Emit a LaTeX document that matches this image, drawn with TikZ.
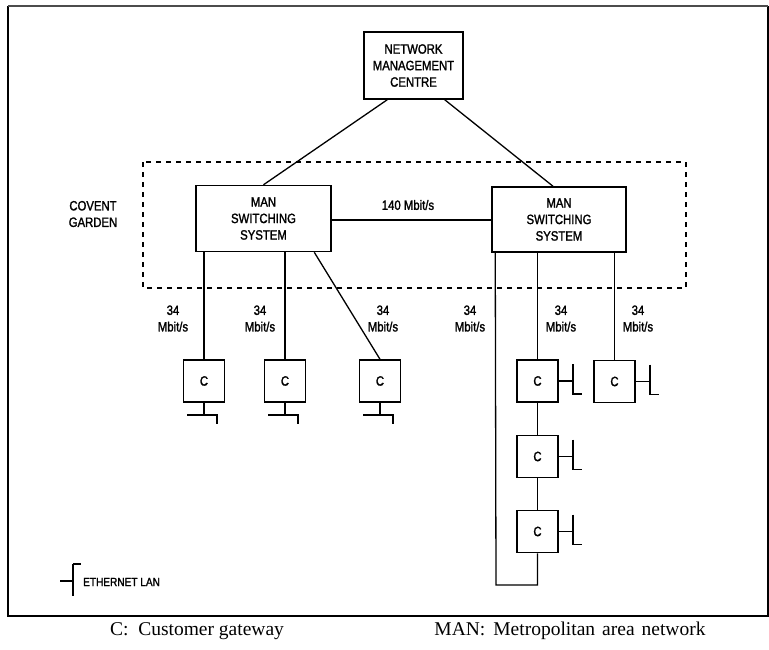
\documentclass[tikz,border=0pt]{standalone}
\usepackage{fontspec}
\usetikzlibrary{calc}
\newfontfamily\diafont[FakeStretch=0.84,FakeBold=1.6]{Liberation Sans}
\newfontfamily\capfont{Liberation Serif}
\begin{document}
\begin{tikzpicture}[x=1pt,y=-1pt,
  box/.style={draw,line width=1.5pt,inner sep=0pt,align=center,
    font=\diafont\fontsize{13.5}{16.5}\selectfont},
  gw/.style={box,minimum width=41pt,minimum height=42pt},
  lbl/.style={align=center,inner sep=0pt,font=\diafont\fontsize{13.5}{16.5}\selectfont},
  link/.style={line width=1.3pt},
  lan/.style={line width=1.5pt},
  zone/.style={line width=1.2pt,dash pattern=on 5pt off 5pt}]
\useasboundingbox (0,0) rectangle (769,649);

% outer frame
\draw[line width=2pt] (8,6) -- (8,616) -- (768,616) -- (768,6);
\draw[line width=2pt,black!70] (8,6) -- (768,6);

% Covent Garden site boundary
\draw[zone] (143,162) rectangle (686,288);
\node[lbl] (cg) at (93,214) {COVENT\\GARDEN};

% management centre and switching systems
\node[box,minimum width=99pt,minimum height=67pt] (nmc) at (413.5,65.5)
  {NETWORK\\MANAGEMENT\\CENTRE};
\node[box,minimum width=135pt,minimum height=66pt] (manl) at (263.5,218.5)
  {MAN\\SWITCHING\\SYSTEM};
\node[box,minimum width=134pt,minimum height=65pt] (manr) at (559,219.5)
  {MAN\\SWITCHING\\SYSTEM};

% customer gateways
\node[gw] (c1) at (204,381) {C};
\node[gw] (c2) at (285,381) {C};
\node[gw] (c3) at (380,381) {C};
\node[gw] (c4) at (537.5,381) {C};
\node[gw] (c5) at (614.5,381.5) {C};
\node[gw] (c6) at (537.5,456.5) {C};
\node[gw] (c7) at (537.5,531.5) {C};

% management links
\draw[link] ($(nmc.south west)+(24,0)$) -- (manl.north);
\draw[link] ($(nmc.south east)+(-19,0)$) -- ($(manr.north)+(-6,0)$);

% trunk between switching systems
\coordinate (trunka) at ($(manl.east)+(0,1.5)$);
\draw[link] (trunka) -- (trunka -| manr.west);
\node[lbl] (trunk) at (408,205) {140 Mbit/s};

% access links, left system
\draw[link] (manl.south west -| c1.north) -- (c1.north);
\draw[link] (manl.south west -| c2.north) -- (c2.north);
\draw[link] ($(manl.south west)+(119,0)$) -- (c3.north);

% access links, right system
\draw[link] (manr.south -| c4.north) -- (c4.north);
\draw[link] (manr.south -| c5.north) -- (c5.north);
\draw[link] (c4.south) -- (c6.north);
\draw[link] (c6.south) -- (c7.north);
\coordinate (loopa) at ($(manr.south west)+(4,0)$);
\coordinate (loopb) at (496,585);
\draw[link] (loopa) -- (loopb) -- (loopb -| c7.south) -- (c7.south);

% rate labels
\foreach \x/\n in {173/r1,260/r2,383/r3,470/r4,561/r5,638/r6}
  \node[lbl] (\n) at (\x,318.5) {34\\Mbit/s};

% Ethernet LANs below the gateways
\foreach \g in {c1,c2,c3}{
  \draw[lan] (\g.south) -- ++(0,12);
  \draw[lan] ($(\g.south)+(-17,12)$) -- ++(30,0) -- ++(0,9);
}
% Ethernet LANs beside the gateways
\foreach \g in {c4,c5,c6,c7}{
  \draw[lan] (\g.east) -- ++(14,0);
  \draw[lan] ($(\g.east)+(14,-17)$) -- ++(0,30) -- ++(9,0);
}

% key
\coordinate (keyb) at (73,581);
\draw[lan] (keyb) ++(-13,0) -- (keyb);
\draw[lan] (keyb) ++(0,-17) -- ++(0,32);
\draw[lan] (keyb) ++(0,-17) -- ++(8,0);
\node[lbl,anchor=west,font=\diafont\fontsize{12}{14}\selectfont] (keytxt) at (83,582) {ETHERNET LAN};

% captions
\node[inner sep=0pt,font=\capfont\fontsize{19.5}{22}\selectfont] (capc) at (197,631) {C:\ \ Customer gateway};
\node[inner sep=0pt,font=\capfont\fontsize{19.5}{22}\selectfont] (capm) at (570,631)
  {MAN:\hspace{8pt}Metropolitan\hspace{7pt}area\hspace{7pt}network};
\end{tikzpicture}
\end{document}
